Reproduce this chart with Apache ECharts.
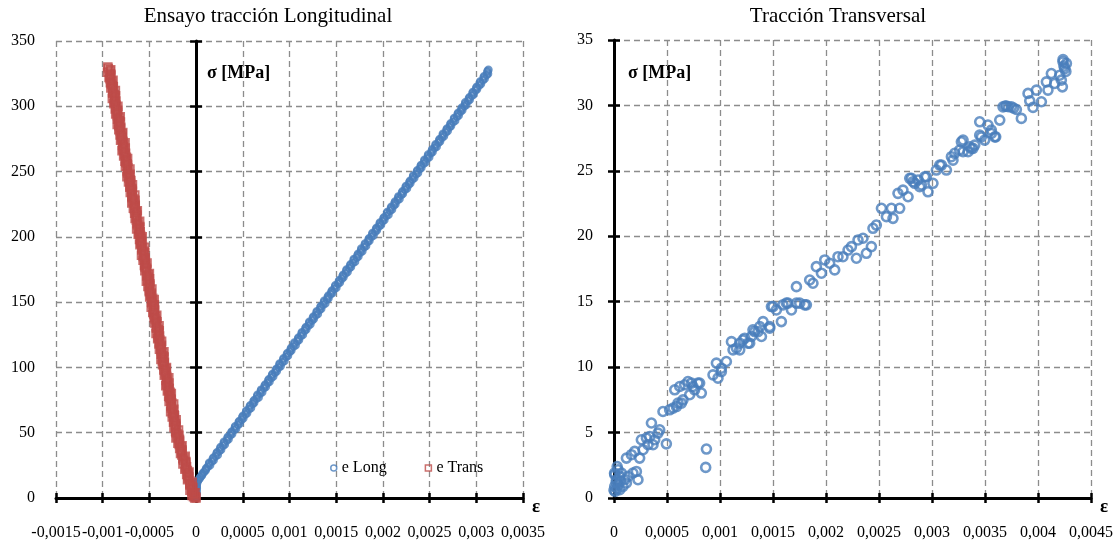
<!DOCTYPE html>
<html><head><meta charset="utf-8">
<script src="https://cdn.jsdelivr.net/npm/echarts@6/dist/echarts.min.js"></script>
<style>html,body{margin:0;padding:0;background:#fff}#c{width:1118px;height:542px}</style>
</head><body><div id="c"></div>
<script>
// ---------- tick values ----------
const leftXTicks = [-0.0015, -0.001, -0.0005, 0, 0.0005, 0.001, 0.0015, 0.002, 0.0025, 0.003, 0.0035];
const leftYTicks = [0, 50, 100, 150, 200, 250, 300, 350];
const rightXTicks = [0, 0.0005, 0.001, 0.0015, 0.002, 0.0025, 0.003, 0.0035, 0.004, 0.0045];
const rightYTicks = [0, 5, 10, 15, 20, 25, 30, 35];

// ---------- data: [strain in microstrain, stress MPa] ----------
const eLong = [[0,1],[4,3],[2,5],[8,7],[5,9],[10,11],[20,13],[38,15],[60,17],[70,19],[102,21],[110,23],[150,25],[140,27],[188,29],[186,31],[232,33],[224,35],[268,37],[262,39],[308,41],[298,43],[348,45],[340,47],[386,49],[382,51],[428,53],[418,55],[468,57],[462,59],[506,61],[502,63],[546,65],[538,67],[588,69],[580,71],[622,73],[622,75],[670,77],[656,79],[708,81],[696,83],[746,85],[740,87],[786,89],[778,91],[826,93],[816,95],[864,97],[860,99],[906,101],[894,103],[946,105],[936,107],[984,109],[978,111],[1020,113],[1018,115],[1066,117],[1052,119],[1102,121],[1096,123],[1144,125],[1132,127],[1180,129],[1176,131],[1224,133],[1212,135],[1260,137],[1256,139],[1304,141],[1292,143],[1340,145],[1336,147],[1384,149],[1370,151],[1418,153],[1416,155],[1460,157],[1454,159],[1502,161],[1490,163],[1540,165],[1534,167],[1578,169],[1574,171],[1622,173],[1610,175],[1658,177],[1654,179],[1702,181],[1688,183],[1738,185],[1734,187],[1780,189],[1768,191],[1820,193],[1808,195],[1856,197],[1852,199],[1900,201],[1888,203],[1936,205],[1932,207],[1980,209],[1968,211],[2016,213],[2012,215],[2060,217],[2046,219],[2098,221],[2090,223],[2134,225],[2130,227],[2178,229],[2166,231],[2214,233],[2210,235],[2258,237],[2246,239],[2294,241],[2290,243],[2336,245],[2324,247],[2376,249],[2368,251],[2412,253],[2408,255],[2456,257],[2444,259],[2496,261],[2484,263],[2532,265],[2528,267],[2576,269],[2564,271],[2612,273],[2608,275],[2654,277],[2642,279],[2694,281],[2686,283],[2730,285],[2726,287],[2774,289],[2762,291],[2812,293],[2806,295],[2850,297],[2846,299],[2892,301],[2882,303],[2930,305],[2926,307],[2972,309],[2962,311],[3008,313],[3004,315],[3050,317],[3040,319],[3090,321],[3082,323],[3126,325],[3120,327],[3130,328]];

const eLongMore = [[2,2],[6,4],[0,6],[6,8],[3,10],[6,12],[26,14],[46,16],[66,18],[86,20],[104,22],[128,24],[138,26],[170,28],[178,30],[210,32],[218,34],[250,36],[256,38],[290,40],[296,42],[330,44],[336,46],[368,48],[376,50],[409,52],[415,54],[449,56],[455,58],[488,60],[494,62],[528,64],[535,66],[568,68],[574,70],[607,72],[614,74],[647,76],[654,78],[687,80],[693,82],[726,84],[733,86],[767,88],[773,90],[806,92],[812,94],[846,96],[852,98],[886,100],[892,102],[925,104],[932,106],[965,108],[971,110],[1005,112],[1011,114],[1044,116],[1051,118],[1084,120],[1091,122],[1124,124],[1130,126],[1163,128],[1170,130],[1203,132],[1210,134],[1243,136],[1250,138],[1283,140],[1290,142],[1322,144],[1330,146],[1362,148],[1369,150],[1402,152],[1409,154],[1442,156],[1449,158],[1481,160],[1488,162],[1521,164],[1528,166],[1561,168],[1568,170],[1601,172],[1608,174],[1640,176],[1648,178],[1680,180],[1687,182],[1720,184],[1727,186],[1760,188],[1767,190],[1800,192],[1806,194],[1839,196],[1846,198],[1879,200],[1886,202],[1919,204],[1926,206],[1959,208],[1966,210],[1998,212],[2005,214],[2038,216],[2045,218],[2078,220],[2085,222],[2118,224],[2125,226],[2157,228],[2164,230],[2197,232],[2204,234],[2237,236],[2244,238],[2277,240],[2284,242],[2316,244],[2323,246],[2356,248],[2363,250],[2396,252],[2403,254],[2436,256],[2443,258],[2475,260],[2482,262],[2515,264],[2522,266],[2555,268],[2562,270],[2595,272],[2602,274],[2634,276],[2642,278],[2674,280],[2681,282],[2714,284],[2721,286],[2754,288],[2761,290],[2794,292],[2800,294],[2833,296],[2840,298],[2873,300],[2880,302],[2913,304],[2920,306],[2953,308],[2960,310],[2992,312],[2999,314],[3032,316],[3039,318],[3072,320],[3079,322],[3112,324],[3118,326]];

const eTrans = [[0,0],[-15,0],[-5,1],[-30,3],[-10,4],[-46,2],[-27,4],[-66,6],[-34,8],[-67,10],[-41,12],[-92,14],[-76,16],[-101,18],[-75,20],[-120,22],[-102,24],[-141,26],[-109,28],[-142,30],[-116,32],[-167,34],[-151,36],[-176,38],[-150,40],[-195,42],[-177,44],[-216,46],[-184,48],[-217,50],[-188,52],[-237,54],[-219,56],[-242,58],[-213,60],[-256,62],[-235,64],[-273,66],[-238,68],[-269,70],[-240,72],[-289,74],[-271,76],[-294,78],[-265,80],[-308,82],[-287,84],[-325,86],[-290,88],[-321,90],[-292,92],[-341,94],[-323,96],[-346,98],[-317,100],[-360,102],[-339,104],[-377,106],[-342,108],[-373,110],[-344,112],[-393,114],[-375,116],[-398,118],[-369,120],[-412,122],[-391,124],[-429,126],[-394,128],[-425,130],[-396,132],[-445,134],[-427,136],[-450,138],[-421,140],[-464,142],[-443,144],[-481,146],[-446,148],[-477,150],[-448,152],[-497,154],[-479,156],[-502,158],[-473,160],[-516,162],[-495,164],[-533,166],[-498,168],[-529,170],[-500,172],[-549,174],[-531,176],[-554,178],[-525,180],[-568,182],[-547,184],[-585,186],[-550,188],[-581,190],[-552,192],[-601,194],[-583,196],[-606,198],[-577,200],[-620,202],[-599,204],[-637,206],[-602,208],[-633,210],[-604,212],[-653,214],[-635,216],[-658,218],[-629,220],[-672,222],[-651,224],[-689,226],[-654,228],[-685,230],[-656,232],[-705,234],[-687,236],[-710,238],[-681,240],[-724,242],[-703,244],[-741,246],[-706,248],[-737,250],[-708,252],[-757,254],[-739,256],[-762,258],[-733,260],[-776,262],[-755,264],[-793,266],[-758,268],[-789,270],[-760,272],[-809,274],[-791,276],[-814,278],[-785,280],[-828,282],[-807,284],[-845,286],[-810,288],[-841,290],[-812,292],[-861,294],[-843,296],[-866,298],[-837,300],[-880,302],[-859,304],[-897,306],[-862,308],[-893,310],[-864,312],[-913,314],[-895,316],[-918,318],[-889,320],[-932,322],[-911,324],[-949,326],[-914,328],[-945,330]];

const eTransMore = [[-28,1],[-25,3],[-47,5],[-44,7],[-44,9],[-67,11],[-65,13],[-86,15],[-88,17],[-85,19],[-93,21],[-114,23],[-111,25],[-111,27],[-135,29],[-132,31],[-153,33],[-155,35],[-152,37],[-160,39],[-181,41],[-179,43],[-178,45],[-202,47],[-199,49],[-220,51],[-219,53],[-214,55],[-219,57],[-238,59],[-233,61],[-231,63],[-252,65],[-247,67],[-266,69],[-266,71],[-261,73],[-266,75],[-285,77],[-280,79],[-278,81],[-299,83],[-294,85],[-313,87],[-312,89],[-308,91],[-313,93],[-332,95],[-327,97],[-324,99],[-346,101],[-341,103],[-360,105],[-359,107],[-354,109],[-360,111],[-379,113],[-374,115],[-371,117],[-392,119],[-388,121],[-407,123],[-406,125],[-401,127],[-406,129],[-426,131],[-421,133],[-418,135],[-439,137],[-434,139],[-454,141],[-453,143],[-448,145],[-453,147],[-472,149],[-468,151],[-465,153],[-486,155],[-481,157],[-500,159],[-500,161],[-495,163],[-500,165],[-519,167],[-514,169],[-512,171],[-533,173],[-528,175],[-547,177],[-546,179],[-542,181],[-547,183],[-566,185],[-561,187],[-558,189],[-580,191],[-575,193],[-594,195],[-593,197],[-588,199],[-594,201],[-613,203],[-608,205],[-605,207],[-626,209],[-622,211],[-641,213],[-640,215],[-635,217],[-640,219],[-660,221],[-655,223],[-652,225],[-673,227],[-668,229],[-688,231],[-687,233],[-682,235],[-687,237],[-706,239],[-702,241],[-699,243],[-720,245],[-715,247],[-734,249],[-734,251],[-729,253],[-734,255],[-753,257],[-748,259],[-746,261],[-767,263],[-762,265],[-781,267],[-780,269],[-776,271],[-781,273],[-800,275],[-795,277],[-792,279],[-814,281],[-809,283],[-828,285],[-827,287],[-822,289],[-828,291],[-847,293],[-842,295],[-839,297],[-860,299],[-856,301],[-875,303],[-874,305],[-869,307],[-874,309],[-894,311],[-889,313],[-886,315],[-907,317],[-902,319],[-922,321],[-921,323],[-916,325],[-921,327],[-940,329]];

const transversal = [[7,0.89],[38,1.02],[23,1.40],[54,1.65],[7,1.78],[38,2.16],[70,1.91],[101,1.40],[117,1.15],[85,0.89],[132,1.65],[179,1.91],[211,2.03],[226,1.40],[0,0.6],[10,0.5],[30,0.7],[54,0.63],[20,1.2],[60,1.3],[5,1.9],[30,2.4],
[117,3.05],[164,3.31],[195,3.56],[242,3.05],[274,3.69],[258,4.45],[306,4.58],[337,4.70],[321,4.07],[368,4.07],[384,4.45],[415,4.96],[431,5.21],[353,5.73],[494,4.14],
[462,6.61],[525,6.74],[557,6.87],[604,7.25],[651,7.50],[573,8.27],[620,8.52],[667,8.65],[698,8.90],[714,7.89],[745,8.52],[792,8.78],[824,8.02],[872,3.74],[865,2.34],[934,9.41],[981,9.16],[1013,9.66],
[589,6.99],[636,7.25],[730,8.78],[761,8.27],[808,8.78],
[966,10.31],[1013,9.92],[1060,10.43],[1108,11.95],[1123,11.32],[1155,11.45],[1186,11.83],[1217,12.08],[1264,11.83],[1296,12.34],[1327,12.72],[1375,13.10],[1406,13.48],[1469,13.10],[1485,14.63],[1532,14.37],[1579,13.48],[1626,14.89],[1674,14.37],[1721,14.89],[1799,14.76],
[1186,11.32],[1233,12.21],[1280,11.83],[1311,12.85],[1358,12.72],[1391,12.34],[1469,12.98],[1500,14.63],[1594,14.76],[1641,14.89],[1721,16.15],[1752,14.89],[1815,14.76],[1846,16.66],[1877,16.41],[1909,17.68],[1957,17.18],[1988,18.19],[2035,17.94],[2082,17.43],[2113,18.44],[2160,18.44],[2208,18.95],[2240,19.21],[2287,18.32],[2302,19.72],[2349,19.85],[2381,18.70],[2428,19.21],[2443,20.61],[2475,20.86],[2523,22.14],[2570,21.50],[2617,22.14],[2632,21.37],[2679,23.28],[2695,22.14],[2726,23.53],[2774,23.02],[2790,24.43],[2821,24.17],[2868,24.30],[2900,23.92],[2947,24.55],[2962,23.40],[3009,24.05],[3041,25.06],[3073,25.44],[3136,25.06],[3183,26.08],[3214,26.34],[3261,26.59],[3293,27.35],[3340,26.46],[3372,26.72],[3403,26.97],[3450,27.73],[3497,27.35],[3560,27.86],[3592,27.60],
[3450,28.75],[3466,27.60],[3528,28.50],[3560,28.11],[3601,27.60],[3639,28.88],[3670,29.89],[3702,29.95],[3749,29.89],[3796,29.69],[3843,29.01],[3906,30.92],[3922,30.35],[3953,29.85],[3985,31.17],[4032,30.28],[4079,31.80],[4094,31.17],[4126,32.44],[4157,31.68],[4205,32.31],[4230,31.42],[4236,33.33],[4252,32.82],[4268,33.21],[4220,31.93],[4245,33.0],[4263,32.6],[4236,33.5],[3690,29.95],[3720,29.9],[3770,29.8],[3277,27.22],[3293,26.46],[3356,26.84],[3387,26.72],[3198,25.82],[3089,25.44],[2931,24.55],[2806,24.43],[2837,24.05],[2884,23.79]];

const titles = ['Ensayo tracción Longitudinal', 'Tracción Transversal'];
const seriesNames = ['e Long', 'e Trans'];
const yName = 'σ [MPa]';
const xName = 'ε';

// ---------- styling ----------
const FONT = "'Liberation Serif','Times New Roman',serif";
const BLUE = '#4A7EBB', RED = '#BE4B48', GRID = '#8c8c8c';
const toStrain = arr => arr.map(p => [p[0] * 1e-6, p[1]]);
const fmt = v => parseFloat(v.toFixed(6)).toString().replace('.', ',');
const rangeOf = t => ({min: t[0], max: t[t.length - 1], interval: +(t[1] - t[0]).toFixed(6)});
const split = {show: true, lineStyle: {color: GRID, width: 1.3, type: [6, 4]}};
const blackLine = {color: '#000', width: 3};
const tickStyle = {color: '#000', width: 2.5};
const lbl = {color: '#000', fontSize: 16, fontFamily: FONT};
const nameStyle = {fontFamily: FONT, fontSize: 19, fontWeight: 'bold', color: '#000', verticalAlign: 'top', align: 'left'};
const hollow = c => ({color: 'rgba(255,255,255,0)', borderColor: c});

function xPair(grid, ticks) {
  const r = rangeOf(ticks);
  return [
    Object.assign({type: 'value', gridIndex: grid, position: 'bottom', z: 1,
      axisLine: {show: true, onZero: false, lineStyle: blackLine},
      axisTick: {show: true, length: 5, lineStyle: tickStyle},
      axisLabel: Object.assign({margin: 27, formatter: fmt}, lbl),
      splitLine: {show: false},
      name: xName, nameLocation: 'end', nameGap: 9, nameTextStyle: nameStyle}, r),
    Object.assign({type: 'value', gridIndex: grid, position: 'bottom', z: 0,
      axisLine: {show: false, onZero: false},
      axisTick: {show: true, inside: true, length: 5, lineStyle: tickStyle},
      axisLabel: {show: false}, splitLine: split}, r)
  ];
}

const ly = rangeOf(leftYTicks), ry = rangeOf(rightYTicks);
const option = {
  animation: false,
  textStyle: {fontFamily: FONT},
  title: [
    {text: titles[0], left: 268, top: 6, padding: 0, textAlign: 'center', textStyle: {fontFamily: FONT, fontSize: 21, fontWeight: 'normal', color: '#000'}},
    {text: titles[1], left: 838, top: 6, padding: 0, textAlign: 'center', textStyle: {fontFamily: FONT, fontSize: 21, fontWeight: 'normal', color: '#000'}}
  ],
  grid: [
    {left: 56, top: 41, width: 467, height: 457},
    {left: 614, top: 40, width: 477, height: 458}
  ],
  legend: {
    data: seriesNames, left: 330, top: 460, padding: 0, itemWidth: 6, itemHeight: 6, itemGap: 38,
    itemStyle: {borderWidth: 1.5},
    textStyle: {fontFamily: FONT, fontSize: 16, color: '#000'}
  },
  xAxis: [...xPair(0, leftXTicks), ...xPair(1, rightXTicks)],
  yAxis: [
    Object.assign({type: 'value', gridIndex: 0, position: 'left', z: 0,
      axisLine: {show: false, onZero: false}, axisTick: {show: false},
      axisLabel: Object.assign({margin: 21}, lbl), splitLine: split}, ly),
    Object.assign({type: 'value', gridIndex: 0, position: 'left', z: 1,
      axisLine: {show: true, onZero: true, onZeroAxisIndex: 0, lineStyle: blackLine},
      axisTick: {show: true, length: 6, lineStyle: tickStyle},
      axisLabel: {show: false}, splitLine: {show: false}}, ly),
    Object.assign({type: 'value', gridIndex: 0, position: 'left', z: 1,
      axisLine: {show: false, onZero: true, onZeroAxisIndex: 0},
      axisTick: {show: true, inside: true, length: 6, lineStyle: tickStyle},
      axisLabel: {show: false}, splitLine: {show: false}}, ly),
    Object.assign({type: 'value', gridIndex: 1, position: 'left', z: 1,
      axisLine: {show: true, onZero: false, lineStyle: blackLine},
      axisTick: {show: true, length: 6, lineStyle: tickStyle},
      axisLabel: Object.assign({margin: 21}, lbl), splitLine: {show: false}}, ry),
    Object.assign({type: 'value', gridIndex: 1, position: 'left', z: 0,
      axisLine: {show: false, onZero: false},
      axisTick: {show: true, inside: true, length: 6, lineStyle: tickStyle},
      axisLabel: {show: false}, splitLine: split}, ry)
  ],
  series: [
    {type: 'scatter', name: seriesNames[0], xAxisIndex: 0, yAxisIndex: 0, data: toStrain(eLong.concat(eLongMore)), symbol: 'circle', symbolSize: 6.5,
      itemStyle: Object.assign({borderWidth: 2}, hollow(BLUE)), z: 3},
    {type: 'scatter', name: seriesNames[1], xAxisIndex: 0, yAxisIndex: 0, data: toStrain(eTrans.concat(eTransMore)), symbol: 'rect', symbolSize: 7.5,
      itemStyle: Object.assign({borderWidth: 2}, hollow(RED)), z: 3},
    {type: 'scatter', name: 'Transversal', xAxisIndex: 2, yAxisIndex: 3, data: toStrain(transversal), symbol: 'circle', symbolSize: 9,
      itemStyle: Object.assign({borderWidth: 2.6}, hollow(BLUE)), z: 3}
  ],
  graphic: [
    {type: 'text', left: 207, top: 64, style: {text: yName, fontFamily: FONT, fontSize: 18, fontWeight: 'bold', fill: '#000'}},
    {type: 'text', left: 628, top: 64, style: {text: yName, fontFamily: FONT, fontSize: 18, fontWeight: 'bold', fill: '#000'}}
  ]
};
echarts.init(document.getElementById('c'), null, {renderer: 'canvas'}).setOption(option);
</script></body></html>
